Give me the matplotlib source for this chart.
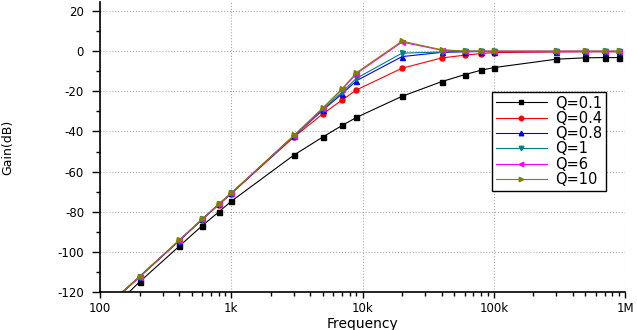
import numpy as np
import matplotlib
matplotlib.use("Agg")
import matplotlib.pyplot as plt
from matplotlib.ticker import FixedLocator, LogLocator, NullFormatter, MultipleLocator

plt.rcParams['font.family'] = ['DejaVu Sans']
plt.rcParams['axes.unicode_minus'] = False

# frequency points (Hz)
FREQ = [100, 200, 400, 600, 800, 1e3, 3e3, 5e3, 7e3, 9e3, 20e3, 40e3, 60e3, 80e3,
        100e3, 300e3, 500e3, 700e3, 900e3]

GAIN_Q01 = [-134, -115, -97.3, -87, -80.2, -74.8, -51.8, -42.7, -37, -33, -22.5,
            -15.2, -11.7, -9.5, -8.2, -4, -3.3, -3.2, -3.2]
GAIN_Q04 = [-130.5, -112.6, -94.6, -84, -76.6, -71, -42.8, -31.2, -24.3, -19.3, -8.5,
            -3.4, -2, -1.2, -0.7, -0.4, -0.3, -0.3, -0.3]
GAIN_Q08 = [-130, -112.4, -94.4, -83.8, -76.4, -70.8, -42.4, -29.3, -21.2, -14.7, -2.7,
            -0.6, -0.3, -0.2, -0.2, -0.2, -0.2, -0.2, -0.2]
GAIN_Q1 = [-130, -112.4, -94.4, -83.8, -76.4, -70.8, -42.3, -29, -20.3, -13.5, -1,
           -0.4, -0.1, -0.1, -0.1, -0.1, -0.1, -0.1, -0.1]
GAIN_Q6 = [-130, -112.3, -94.3, -83.7, -76.3, -70.7, -42.1, -28.4, -19, -11.2, 4.5,
           0.5, 0, 0, 0, 0, 0, 0, 0]
GAIN_Q10 = [-130, -112.3, -94.3, -83.7, -76.3, -70.7, -42, -28.2, -18.7, -10.7, 5,
            0.7, 0.1, 0, 0, 0, 0, 0, 0]

LABELS = ["Q=0.1", "Q=0.4", "Q=0.8", "Q=1", "Q=6", "Q=10"]
SERIES = [GAIN_Q01, GAIN_Q04, GAIN_Q08, GAIN_Q1, GAIN_Q6, GAIN_Q10]
COLORS = ["black", "red", "blue", "#008080", "magenta", "#808000"]
MARKERS = ["s", "o", "^", "v", "<", ">"]

X_TICKS = [100, 1e3, 1e4, 1e5, 1e6]
X_TICK_LABELS = ["100", "1k", "10k", "100k", "1M"]

fig = plt.figure(figsize=(6.37, 3.30), dpi=100)
ax = fig.add_axes([100 / 637, 1 - 292 / 330, 525 / 637, 290 / 330])

for vals, lab, col, mk in zip(SERIES, LABELS, COLORS, MARKERS):
    ax.plot(FREQ, vals, color=col, marker=mk, markersize=3.6, linewidth=0.8, label=lab)

ax.set_xscale("log")
ax.set_xlim(100, 1e6)
ax.set_ylim(-120, 24.5)

ax.xaxis.set_major_locator(FixedLocator(X_TICKS))
ax.set_xticklabels(X_TICK_LABELS)
ax.xaxis.set_minor_locator(LogLocator(base=10, subs=np.arange(2, 10)))
ax.xaxis.set_minor_formatter(NullFormatter())
ax.yaxis.set_major_locator(MultipleLocator(20))
ax.yaxis.set_minor_locator(MultipleLocator(10))

ax.spines['top'].set_visible(False)
ax.spines['right'].set_visible(False)
ax.spines['left'].set_linewidth(1.2)
ax.spines['bottom'].set_linewidth(1.2)

ax.tick_params(axis='y', which='major', direction='out', length=5.5, width=1, labelsize=8.5, pad=6)
ax.tick_params(axis='x', which='major', direction='out', length=4, width=1, labelsize=8.5, pad=3)
ax.tick_params(axis='both', which='minor', direction='out', length=3, width=1)

ax.grid(True, which='major', linestyle=':', color='#aaaaaa', linewidth=0.8)

ax.set_xlabel("Frequency", fontsize=10)
ax.xaxis.set_label_coords(0.5, -0.086)
ax.xaxis.label.set_va('top')
ax.set_ylabel("Gain(dB)", fontsize=9)
ax.yaxis.set_label_coords(-0.163, 0.5)

leg = ax.legend(loc='upper left', bbox_to_anchor=(0.747, 0.69), fontsize=10.5,
                frameon=True, fancybox=False, edgecolor='black', framealpha=1,
                handlelength=3.5, labelspacing=0.02, borderpad=0.25, numpoints=1,
                markerscale=0.9, handletextpad=0.6, borderaxespad=0)
leg.get_frame().set_linewidth(1)

plt.savefig("out.png", dpi=100)
